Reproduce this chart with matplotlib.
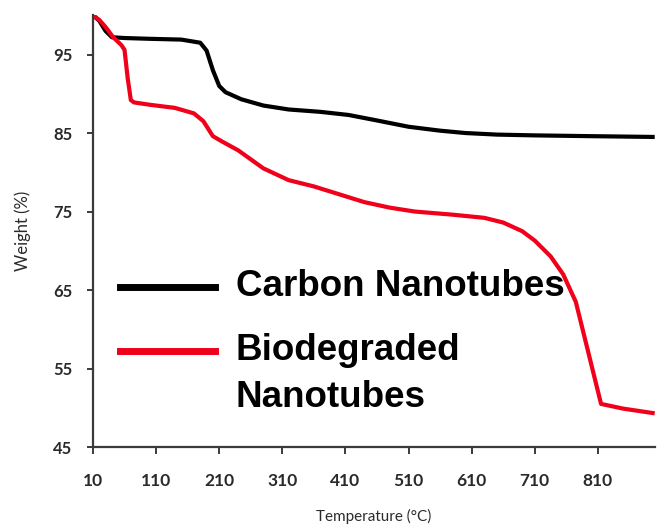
import numpy as np
import matplotlib.pyplot as plt
from matplotlib.lines import Line2D

# TGA curves
temp_cnt = [10, 20, 30, 40, 60, 100, 150, 180, 190, 200, 210, 220, 245, 280,
            320, 370, 415, 460, 510, 560, 600, 650, 710, 800, 900]
weight_cnt = [100, 99.3, 98, 97.2, 97.1, 97.0, 96.9, 96.5, 95.5, 93, 91, 90.2,
              89.3, 88.5, 88.0, 87.7, 87.3, 86.6, 85.8, 85.3, 85.0, 84.8, 84.7,
              84.6, 84.5]

temp_bio = [10, 20, 30, 42, 55, 60, 65, 70, 75, 100, 140, 170, 185, 200, 215,
            240, 280, 320, 360, 400, 440, 480, 520, 580, 630, 660, 690, 710,
            735, 755, 775, 795, 815, 850, 900]
weight_bio = [100, 99.4, 98.5, 97.2, 96.2, 95.6, 92, 89.2, 88.9, 88.6, 88.2,
              87.5, 86.5, 84.6, 83.9, 82.8, 80.5, 79.0, 78.2, 77.2, 76.2, 75.5,
              75.0, 74.6, 74.2, 73.6, 72.5, 71.3, 69.3, 67.0, 63.5, 57.0, 50.5,
              49.9, 49.3]

x_ticks = [10, 110, 210, 310, 410, 510, 610, 710, 810]
y_ticks = [45, 55, 65, 75, 85, 95]

fig = plt.figure(figsize=(6.64, 5.26), dpi=100)
ax = fig.add_axes([0.140, 0.150, 0.846, 0.821])

ax.plot(temp_cnt, weight_cnt, color='black', lw=3.0, solid_capstyle='butt')
ax.plot(temp_bio, weight_bio, color='#f0001a', lw=3.0, solid_capstyle='butt')

ax.set_xlim(10, 900)
ax.set_ylim(45, 100)
ax.set_xticks(x_ticks)
ax.set_yticks(y_ticks)

for side in ['top', 'right']:
    ax.spines[side].set_visible(False)
for side in ['left', 'bottom']:
    ax.spines[side].set_color('#3a3a3a')
    ax.spines[side].set_linewidth(1.6)

ax.tick_params(axis='x', direction='out', length=5, width=1.4, color='#3a3a3a',
               pad=14, labelsize=12.5, labelcolor='#2a2a2a')
ax.tick_params(axis='y', direction='out', length=4, width=1.4, color='#3a3a3a',
               pad=11, labelsize=12, labelcolor='#2a2a2a')
for lab in ax.get_xticklabels() + ax.get_yticklabels():
    lab.set_family('Lato')
    lab.set_fontweight('bold')

ax.set_xlabel('Temperature (°C)', family='Lato', fontsize=11, color='#2a2a2a',
              labelpad=14)
ax.set_ylabel('Weight (%)', family='Lato', fontsize=12, color='#2a2a2a',
              labelpad=16)

# hand-placed legend
leg_font = dict(family='Liberation Sans', fontweight='bold', fontsize=26.5,
                color='black', va='center', ha='left')
ax.add_line(Line2D([0.048, 0.218], [0.370, 0.370], transform=ax.transAxes,
                   color='black', lw=5))
ax.add_line(Line2D([0.048, 0.218], [0.222, 0.222], transform=ax.transAxes,
                   color='#f0001a', lw=5))
ax.text(0.254, 0.372, 'Carbon Nanotubes', transform=ax.transAxes, **leg_font)
ax.text(0.254, 0.224, 'Biodegraded', transform=ax.transAxes, **leg_font)
ax.text(0.254, 0.116, 'Nanotubes', transform=ax.transAxes, **leg_font)

fig.savefig('out.png', dpi=100, facecolor='white')
